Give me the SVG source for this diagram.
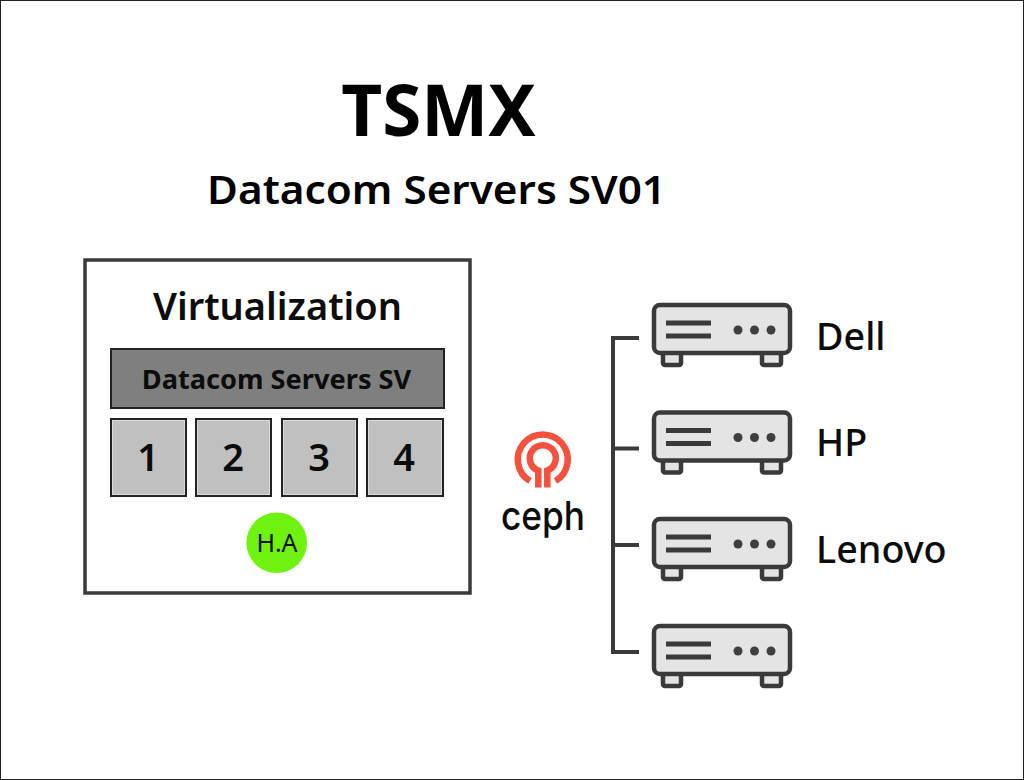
<svg xmlns="http://www.w3.org/2000/svg" xmlns:xlink="http://www.w3.org/1999/xlink" width="1024" height="780" viewBox="0 0 1024 780">
<style>
text{font-family:"Noto Sans","Open Sans","Liberation Sans",sans-serif;fill:#0c0c0c;text-anchor:middle}
.num{font-size:38px;font-weight:600}
.lab{font-size:37.700px;font-weight:500;text-anchor:start}
.vm{fill:#c0c0c0;stroke:#222;stroke-width:2}
.hi{fill:none;stroke:#dcdcdc;stroke-width:1}
.wire{fill:none;stroke:#3a3a3a;stroke-width:4}
.d{fill:#3f3f3f}
.part{fill:#e4e4e4;stroke:#3a3a3a;stroke-width:4.500}
.ring{fill:none;stroke:#f4513f;stroke-width:6.500}
</style>
<defs>
<g id="server">
<rect class="part" x="9" y="46" width="18" height="14" rx="2"/>
<rect class="part" x="108" y="46" width="19" height="14" rx="2"/>
<rect class="part" x="0" y="0" width="136" height="48" rx="6"/>
<rect x="12" y="15.500" width="45" height="5" fill="#3a3a3a"/>
<rect x="12" y="28.500" width="45" height="5" fill="#3a3a3a"/>
<circle class="d" cx="84" cy="25" r="4.500"/>
<circle class="d" cx="100.500" cy="25" r="4.500"/>
<circle class="d" cx="117" cy="25" r="4.500"/>
</g>
</defs>
<rect width="1024" height="780" fill="#fff"/>
<rect x="0.5" y="0.5" width="1023" height="779" fill="none" stroke="#222" stroke-width="1"/>
<text id="title" x="438.500" y="135.500" font-size="71" font-weight="700" style="fill:#000">TSMX</text>
<text id="subtitle" x="436.500" y="204" font-size="40" font-weight="600" textLength="459" lengthAdjust="spacingAndGlyphs" style="fill:#000">Datacom Servers SV01</text>
<g id="virtualization">
<rect x="85" y="260" width="385" height="333" fill="#fff" stroke="#3a3a3a" stroke-width="3.500"/>
<text x="277.500" y="320" font-size="38.500" font-weight="600" textLength="249" lengthAdjust="spacingAndGlyphs">Virtualization</text>
</g>
<g id="datacom-servers">
<rect x="111" y="349" width="333" height="59" fill="#7f7f7f" stroke="#222" stroke-width="2"/>
<text x="276.500" y="389" font-size="27.200" font-weight="700">Datacom Servers SV</text>
</g>
<g id="vm1"><rect class="vm" x="111" y="419" width="75" height="77"/><rect class="hi" x="112.500" y="420.500" width="72" height="74"/><text class="num" x="148" y="471">1</text></g>
<g id="vm2"><rect class="vm" x="196" y="419" width="75" height="77"/><rect class="hi" x="197.500" y="420.500" width="72" height="74"/><text class="num" x="233" y="471">2</text></g>
<g id="vm3"><rect class="vm" x="282" y="419" width="75" height="77"/><rect class="hi" x="283.500" y="420.500" width="72" height="74"/><text class="num" x="319" y="471">3</text></g>
<g id="vm4"><rect class="vm" x="367" y="419" width="76" height="77"/><rect class="hi" x="368.500" y="420.500" width="73" height="74"/><text class="num" x="404" y="471">4</text></g>
<g id="ha"><circle cx="276.700" cy="542.700" r="30.300" fill="#6ff20f"/><text x="277" y="552" font-size="25">H.A</text></g>
<g id="ceph">
<path class="ring" d="M530 481 A25 25 0 1 1 555.500 481"/>
<path class="ring" d="M538.300 487.500 V470.500 A13 13 0 1 1 547.300 470.500 V487.500"/>
<text x="543" y="530" font-size="40" font-weight="500" textLength="84" lengthAdjust="spacingAndGlyphs" style="font-family:'Inter','Noto Sans',sans-serif">ceph</text>
</g>
<g id="connectors">
<path class="wire" d="M639 338 H613 V652 H639 M613 448.500 H639 M613 545 H639"/>
</g>
<g id="server-dell"><use xlink:href="#server" x="654" y="305"/><text class="lab" x="816" y="349.500">Dell</text></g>
<g id="server-hp"><use xlink:href="#server" x="654" y="412.500"/><text class="lab" x="816" y="456">HP</text></g>
<g id="server-lenovo"><use xlink:href="#server" x="654" y="519"/><text class="lab" x="816" y="562.500">Lenovo</text></g>
<g id="server-4"><use xlink:href="#server" x="654" y="626"/></g>
</svg>
